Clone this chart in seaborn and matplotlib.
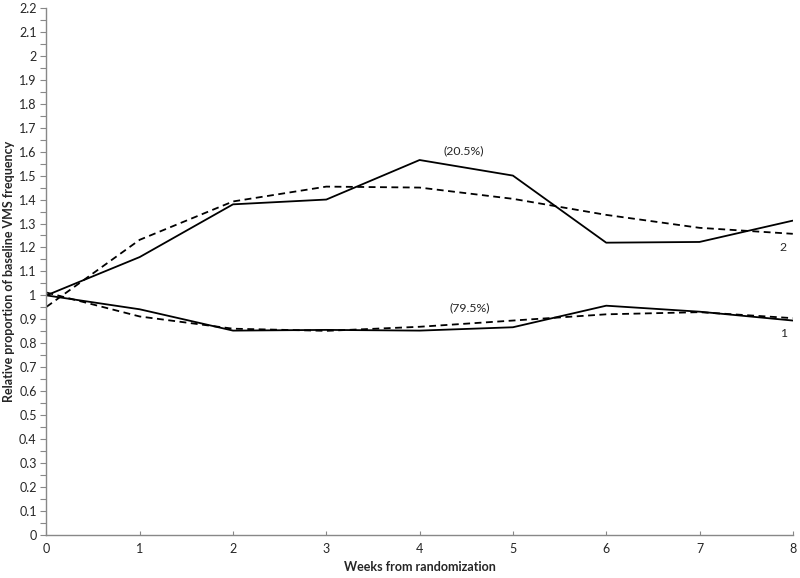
import numpy as np
import pandas as pd
import seaborn as sns
import matplotlib.pyplot as plt
from matplotlib.ticker import MultipleLocator

# semaines
weeks = [0, 1, 2, 3, 4, 5, 6, 7, 8]

# classe 2 (20.5%)
class2_observed = [1.00, 1.16, 1.38, 1.40, 1.565, 1.50, 1.22, 1.223, 1.312]
class2_fitted = [0.952, 1.232, 1.392, 1.454, 1.45, 1.403, 1.336, 1.282, 1.257]

# classe 1 (79.5%)
class1_observed = [1.00, 0.942, 0.853, 0.856, 0.853, 0.867, 0.957, 0.932, 0.895]
class1_fitted = [1.012, 0.912, 0.861, 0.852, 0.869, 0.895, 0.921, 0.93, 0.905]

rows = []
for name, vals, kind in [('c2_obs', class2_observed, 'observed'),
                         ('c2_fit', class2_fitted, 'fitted'),
                         ('c1_obs', class1_observed, 'observed'),
                         ('c1_fit', class1_fitted, 'fitted')]:
    for w, v in zip(weeks, vals):
        rows.append({'week': w, 'value': v, 'series': name, 'kind': kind})
df = pd.DataFrame(rows)

sns.set_style('white')
plt.rcParams['font.family'] = ['Lato', 'DejaVu Sans']

fig = plt.figure(figsize=(8, 5.78), dpi=100)
ax = fig.add_axes([0.058, 0.0744, 0.933, 0.912])

sns.lineplot(data=df, x='week', y='value', units='series', estimator=None,
             style='kind', style_order=['observed', 'fitted'],
             dashes={'observed': '', 'fitted': (3.8, 2.5)},
             color='black', linewidth=1.3, legend=False, ax=ax)

ax.set_xlim(0, 8)
ax.set_ylim(0, 2.2)
ax.yaxis.set_major_locator(MultipleLocator(0.1))
ax.yaxis.set_minor_locator(MultipleLocator(0.05))
ax.xaxis.set_major_locator(MultipleLocator(1))
ax.set_yticklabels([('%g' % t) for t in ax.get_yticks()])

for s in ['top', 'right']:
    ax.spines[s].set_visible(False)
for s in ['left', 'bottom']:
    ax.spines[s].set_color('#888888')
    ax.spines[s].set_linewidth(1)

ax.tick_params(axis='y', which='both', direction='out', length=4, width=0.8,
               color='#888888', labelsize=9, pad=3, left=True)
ax.tick_params(axis='x', which='major', direction='in', length=3, width=0.8,
               color='#888888', labelsize=9, pad=6, bottom=True)

ax.set_xlabel('Weeks from randomization', fontsize=9, fontweight='bold', labelpad=4)
ax.set_ylabel('Relative proportion of baseline VMS frequency', fontsize=9,
              fontweight='bold', labelpad=3)

# annotations
ax.text(4.47, 1.603, '(20.5%)', fontsize=8.8, ha='center', va='center')
ax.text(4.54, 0.948, '(79.5%)', fontsize=8.8, ha='center', va='center')
ax.text(7.9, 1.198, '2', fontsize=8.8, ha='center', va='center')
ax.text(7.9, 0.843, '1', fontsize=8.8, ha='center', va='center')

plt.savefig('out.png', dpi=100)
